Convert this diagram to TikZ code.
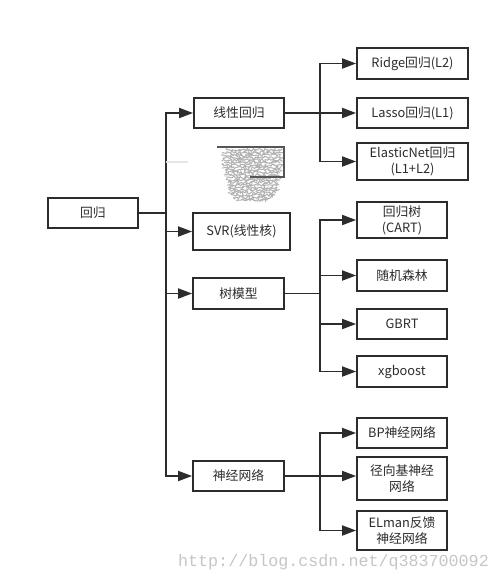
\documentclass[tikz,border=0pt]{standalone}
\usepackage{fontspec}
\setmainfont{Noto Sans CJK SC}
\newfontfamily\wmfont{Liberation Mono}
\usetikzlibrary{arrows.meta,decorations.pathmorphing}
\definecolor{ink}{HTML}{2C2C2C}
\tikzset{
  box/.style={draw=ink, line width=1.8pt, inner sep=0pt, align=center, text=ink,
    font=\fontsize{12.8}{16}\selectfont},
  link/.style={draw=ink, line width=1.8pt},
  arr/.style={link, -{Triangle[length=14pt,width=10pt]}},
}
\begin{document}
\begin{tikzpicture}[x=1pt,y=-1pt]
\useasboundingbox[fill=white] (0,0) rectangle (500,582);
% level 1
\node[box, minimum width=90pt, minimum height=30pt] (root) at (93,213) {回归};
\node[box, minimum width=90pt, minimum height=30pt] (lin) at (239,113) {线性回归};
\node[box, minimum width=97pt, minimum height=37pt] (svr) at (241.5,231.5) {SVR(线性核)};
\node[box, minimum width=91pt, minimum height=31pt] (tree) at (238.5,293.5) {树模型};
\node[box, minimum width=91pt, minimum height=30pt] (nn) at (238.5,476) {神经网络};
% level 2
\node[box, minimum width=111pt, minimum height=31pt] (ridge) at (412.5,63.5) {Ridge回归(L2)};
\node[box, minimum width=111pt, minimum height=30pt] (lasso) at (412.5,113) {Lasso回归(L1)};
\node[box, minimum width=111pt, minimum height=37pt] (elastic) at (412.5,161.5) {ElasticNet回归\\(L1+L2)};
\node[box, minimum width=90pt, minimum height=36pt] (cart) at (402,220) {回归树\\(CART)};
\node[box, minimum width=90pt, minimum height=31pt] (rf) at (402,275.5) {随机森林};
\node[box, minimum width=90pt, minimum height=30pt] (gbrt) at (402,324) {GBRT};
\node[box, minimum width=90pt, minimum height=31pt] (xgb) at (402,371.5) {xgboost};
\node[box, minimum width=90pt, minimum height=30pt] (bp) at (402,433) {BP神经网络};
\node[box, minimum width=90pt, minimum height=43pt] (rbf) at (402,478.5) {径向基神经\\网络};
\node[box, minimum width=90pt, minimum height=39pt] (elman) at (402,530.5) {ELman反馈\\神经网络};
% junctions
\coordinate (ja) at (166,213);
\coordinate (jb) at (320,113);
\coordinate (jc) at (320,293.5);
\coordinate (jd) at (320,476);
% connectors level 1
\draw[link] (root.east) -- (ja);
\draw[arr] (ja) |- (lin);
\draw[arr] (ja) |- (svr);
\draw[arr] (ja) |- (tree);
\draw[arr] (ja) |- (nn);
% redacted branch
\draw[gray!20, line width=1.5pt] (166,162) -- (188,162);
\foreach \yy/\xa/\xb in {150/226/282,152.5/222/283,155/221/281,157.5/223/283,160/222/282,162.5/224/280,165/222/283,167.5/223/281,170/225/282,172.5/226/280,175/224/279,177.5/227/281,180/226/280,182.5/228/278,185/227/279,187.5/228/277,190/229/279,192.5/228/276,195/231/275,197.5/233/272,200/236/268}
  \draw[gray!60, line width=1pt, decorate, decoration={random steps, segment length=1.2pt, amplitude=1.4pt}] (\xa,\yy) -- (\xb,\yy);
\draw[link, draw=ink!80] (217,147) -- (284,147) -- (284,177) -- (250,177);
% connectors level 2
\draw[link] (lin.east) -- (jb);
\draw[arr] (jb) |- (ridge);
\draw[arr] (jb) -- (lasso);
\draw[arr] (jb) |- (elastic);
\draw[link] (tree.east) -- (jc);
\draw[arr] (jc) |- (cart);
\draw[arr] (jc) |- (rf);
\draw[arr] (jc) |- (gbrt);
\draw[arr] (jc) |- (xgb);
\draw[link] (nn.east) -- (jd);
\draw[arr] (jd) |- (bp);
\draw[arr] (jd) -- (jd -| rbf.west);
\draw[arr] (jd) |- (elman);
% watermark
\node[text=gray!45, font=\wmfont\fontsize{16.7}{18}\selectfont, inner sep=0pt] (wm) at (333.5,562) {http://blog.csdn.net/q383700092};
\end{tikzpicture}
\end{document}
